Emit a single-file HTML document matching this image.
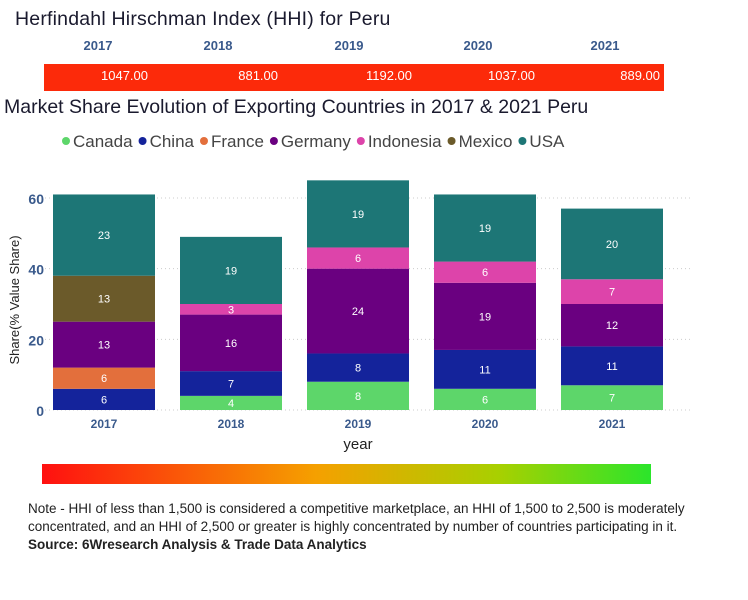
<!DOCTYPE html>
<html><head><meta charset="utf-8"><style>
body{margin:0;width:748px;height:600px;background:#fff;font-family:"Liberation Sans",sans-serif;overflow:hidden;position:relative}
.abs{position:absolute}
</style></head><body>
<div class="abs" style="left:15px;top:8px;font-size:19.5px;color:#1a1a2e;letter-spacing:0.2px">Herfindahl Hirschman Index (HHI) for Peru</div>
<div id="hhiyears"></div>
<div class="abs" style="left:44px;top:64px;width:620px;height:27px;background:#fc2a0a"></div>
<div class="abs" style="left:4px;top:96px;font-size:19.5px;color:#1a1a2e;letter-spacing:0px">Market Share Evolution of Exporting Countries in 2017 &amp; 2021 Peru</div>
<svg class="abs" style="left:0;top:0" width="748" height="600" id="chart"></svg>
<div class="abs" style="left:42px;top:464px;width:609px;height:20px;background:linear-gradient(to right,#ff1010,#f5a000 45%,#a8d000 75%,#2be52b)"></div>
<div class="abs" style="left:28px;top:500px;width:690px;font-size:13.5px;line-height:18px;color:#222">Note - HHI of less than 1,500 is considered a competitive marketplace, an HHI of 1,500 to 2,500 is moderately concentrated, and an HHI of 2,500 or greater is highly concentrated by number of countries participating in it.<br><b>Source: 6Wresearch Analysis &amp; Trade Data Analytics</b></div>
<script>
const years=["2017","2018","2019","2020","2021"];
const hhi=[1047,881,1192,1037,889];
const series=["Canada","China","France","Germany","Indonesia","Mexico","USA"];
const colors=["#5dd66a","#14239b","#e36f3c","#6a0080","#dd44aa","#6b5a2a","#1d7676"];
const canada=[0,4,8,6,7];
const china=[6,7,8,11,11];
const france=[6,0,0,0,0];
const germany=[13,16,24,19,12];
const indonesia=[0,3,6,6,7];
const mexico=[13,0,0,0,0];
const usa=[23,19,19,19,20];
const yTicks=[0,20,40,60];
const vals=[canada,china,france,germany,indonesia,mexico,usa];
const NS="http://www.w3.org/2000/svg";
const svg=document.getElementById('chart');
const y0=410,k=212/60;
const yS=v=>y0-v*k;
const xS=i=>53+i*127;
const bw=102;
function mk(t,a){const e=document.createElementNS(NS,t);for(const n in a)e.setAttribute(n,a[n]);svg.appendChild(e);return e;}
const yc=[98,218,349,478,605];
const vr=[148,278,412,535,660];
const hy=document.getElementById('hhiyears');
years.forEach((y,i)=>{const d=document.createElement('div');d.className='abs';


d.style.cssText=`left:${yc[i]-30}px;top:38px;width:60px;text-align:center;font-size:13px;font-weight:bold;color:#3a5a8c`;d.textContent=y;hy.appendChild(d);
const v=document.createElement('div');v.className='abs';


v.style.cssText=`left:${vr[i]-100}px;top:68px;width:100px;text-align:right;font-size:13px;color:#fff;z-index:2`;v.textContent=hhi[i].toFixed(2);hy.appendChild(v);});
let lx=62;
series.forEach((s,i)=>{const c=mk('circle',{cx:lx+4,cy:141,r:4,fill:colors[i]});


const t=mk('text',{x:lx+11,y:147,'font-size':17,fill:'#444'});t.textContent=s;


lx+=11+t.getComputedTextLength()+6;});
yTicks.forEach(v=>{const g=mk('line',{x1:45,x2:690,y1:yS(v),y2:yS(v),stroke:'#ccc','stroke-dasharray':'1 3'});


const t=mk('text',{x:44,y:yS(v)+6,'text-anchor':'end','font-size':14,'font-weight':'bold',fill:'#3a5a8c'});t.textContent=v;

});
years.forEach((y,i)=>{let acc=0;
vals.forEach((arr,s)=>{const v=arr[i];if(!v)return;
const r=mk('rect',{x:xS(i),y:yS(acc+v),width:bw,height:v*k,fill:colors[s]});


const t=mk('text',{x:xS(i)+bw/2,y:yS(acc+v/2)+4,'text-anchor':'middle','font-size':11,fill:'#fff'});t.textContent=v;


acc+=v;});
const t=mk('text',{x:xS(i)+bw/2,y:428,'text-anchor':'middle','font-size':12,'font-weight':'bold',fill:'#3a5a8c'});t.textContent=y;

});
const xt=mk('text',{x:358,y:449,'text-anchor':'middle','font-size':15,fill:'#222'});xt.textContent='year';


const yt=mk('text',{x:0,y:0,transform:'translate(19,300) rotate(-90)','text-anchor':'middle','font-size':13,fill:'#222'});yt.textContent='Share(% Value Share)';


</script>
</body></html>
